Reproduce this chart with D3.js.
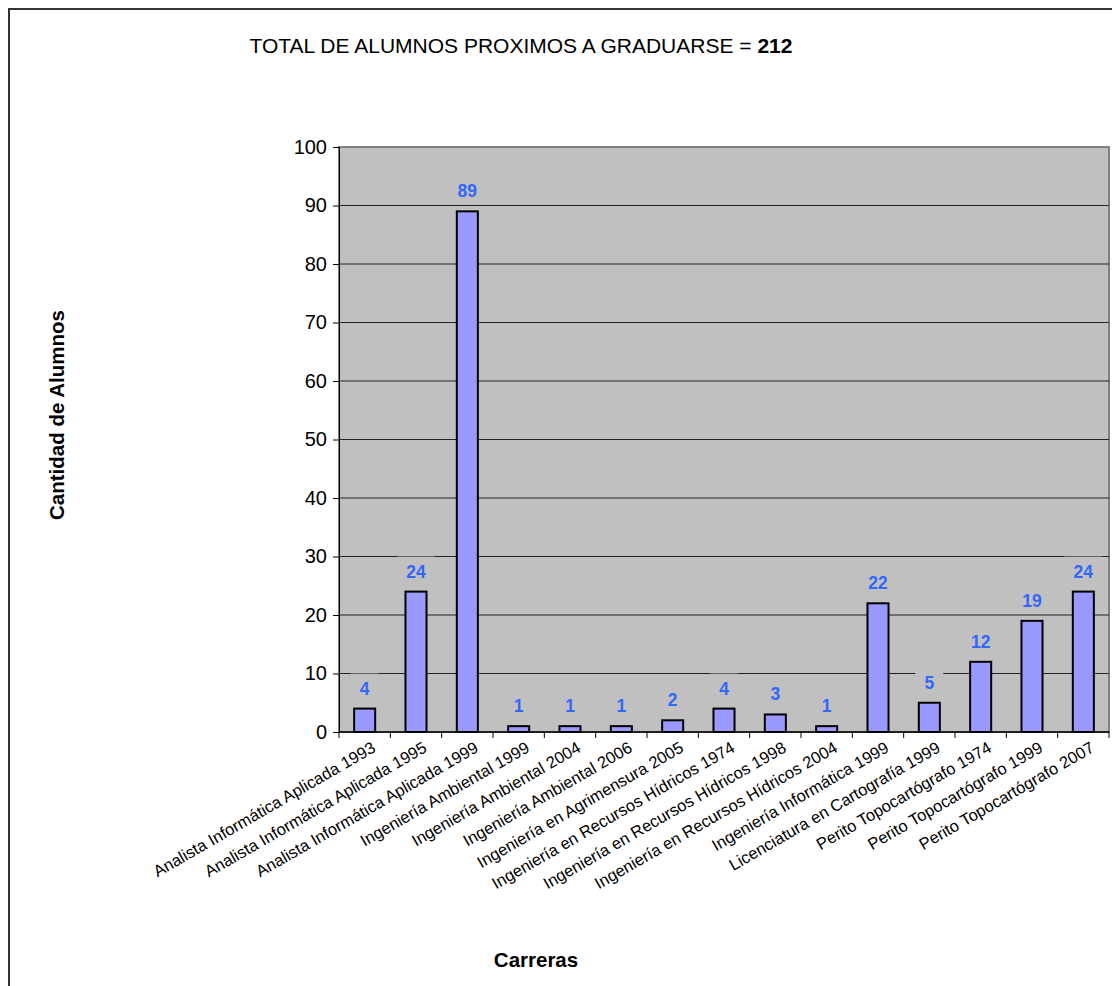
<!DOCTYPE html>
<html>
<head>
<meta charset="utf-8">
<script src="https://cdn.jsdelivr.net/npm/d3@7"></script>
<style>
  body { margin: 0; background: #fff; }
  text { font-family: "Liberation Sans", Arial, sans-serif; }
</style>
</head>
<body>
<div id="chart"></div>
<script>
// data
var carreras = [
  "Analista Informática Aplicada 1993",
  "Analista Informática Aplicada 1995",
  "Analista Informática Aplicada 1999",
  "Ingeniería Ambiental 1999",
  "Ingeniería Ambiental 2004",
  "Ingeniería Ambiental 2006",
  "Ingeniería en Agrimensura 2005",
  "Ingeniería en Recursos Hídricos 1974",
  "Ingeniería en Recursos Hídricos 1998",
  "Ingeniería en Recursos Hídricos 2004",
  "Ingeniería Informática 1999",
  "Licenciatura en Cartografía 1999",
  "Perito Topocartógrafo 1974",
  "Perito Topocartógrafo 1999",
  "Perito Topocartógrafo 2007"
];
var alumnos = [4, 24, 89, 1, 1, 1, 2, 4, 3, 1, 22, 5, 12, 19, 24];
var yTicks = [0, 10, 20, 30, 40, 50, 60, 70, 80, 90, 100];
var total = 212;

var svgWidth = 1112, svgHeight = 986;
var margin = { top: 147, right: 3, bottom: 254, left: 339 };
var width = svgWidth - margin.left - margin.right;
var height = svgHeight - margin.top - margin.bottom;

var svg = d3.select("#chart").append("svg")
  .attr("width", svgWidth)
  .attr("height", svgHeight);

// outer frame (only left and top edges are visible)
svg.append("path")
  .attr("d", "M9,986 V9 H1112")
  .attr("fill", "none")
  .attr("stroke", "#333")
  .attr("stroke-width", 2);

// title
var title = svg.append("text")
  .attr("x", 521)
  .attr("y", 53)
  .attr("text-anchor", "middle")
  .style("font-size", "21px");
title.append("tspan").text("TOTAL DE ALUMNOS PROXIMOS A GRADUARSE = ");
title.append("tspan").style("font-weight", "bold").text(total);

var chartGroup = svg.append("g")
  .attr("transform", `translate(${margin.left}, ${margin.top})`);

var xScale = d3.scaleBand()
  .domain(carreras)
  .range([0, width])
  .paddingInner(0.59)
  .paddingOuter(0.295);

var yScale = d3.scaleLinear()
  .domain([0, 100])
  .range([height, 0]);

// plot background
chartGroup.append("rect")
  .attr("width", width)
  .attr("height", height)
  .attr("fill", "#c0c0c0")
  .attr("stroke", "#808080")
  .attr("stroke-width", 2);

// gridlines
chartGroup.selectAll(".grid")
  .data(yTicks.filter(d => d > 0 && d < 100))
  .enter()
  .append("line")
  .attr("x1", 0)
  .attr("x2", width)
  .attr("y1", d => yScale(d))
  .attr("y2", d => yScale(d))
  .attr("stroke", "#222")
  .attr("stroke-width", 1);

// y axis
var leftAxis = d3.axisLeft(yScale).tickValues(yTicks).tickSize(6).tickPadding(6);
var yAxis = chartGroup.append("g").call(leftAxis);
yAxis.select(".domain").attr("stroke", "#000");
yAxis.selectAll("text").style("font-size", "20px").attr("fill", "#000");

// x axis with ticks on category boundaries
var bw = xScale.step();
chartGroup.append("line")
  .attr("x1", 0).attr("x2", width)
  .attr("y1", height).attr("y2", height)
  .attr("stroke", "#000").attr("stroke-width", 1.5);
chartGroup.selectAll(".xtick")
  .data(d3.range(carreras.length + 1))
  .enter()
  .append("line")
  .attr("x1", i => i * bw).attr("x2", i => i * bw)
  .attr("y1", height).attr("y2", height + 6)
  .attr("stroke", "#000");

// category labels
chartGroup.selectAll(".cat")
  .data(carreras)
  .enter()
  .append("text")
  .attr("text-anchor", "end")
  .attr("transform", d => `translate(${xScale(d) + xScale.bandwidth() / 2 + 12}, ${height + 19}) rotate(-30)`)
  .style("font-size", "16.5px")
  .text(d => d);

// bars
chartGroup.selectAll(".bar")
  .data(alumnos)
  .enter()
  .append("rect")
  .attr("x", (d, i) => xScale(carreras[i]))
  .attr("y", d => yScale(d))
  .attr("width", xScale.bandwidth())
  .attr("height", d => height - yScale(d))
  .attr("fill", "#9999ff")
  .attr("stroke", "#000")
  .attr("stroke-width", 2);

// data labels with plot-coloured background
var labels = chartGroup.selectAll(".lbl")
  .data(alumnos)
  .enter()
  .append("g")
  .attr("transform", (d, i) => `translate(${xScale(carreras[i]) + xScale.bandwidth() / 2}, ${yScale(d) - 14})`);
labels.append("rect")
  .attr("x", d => -String(d).length * 5 - 9)
  .attr("y", -21)
  .attr("width", d => String(d).length * 10 + 18)
  .attr("height", 27)
  .attr("fill", "#c0c0c0");
labels.append("text")
  .attr("text-anchor", "middle")
  .style("font-size", "17.5px")
  .style("font-weight", "bold")
  .attr("fill", "#3366ff")
  .text(d => d);

// axis titles
svg.append("text")
  .attr("transform", "translate(64, 415) rotate(-90)")
  .attr("text-anchor", "middle")
  .style("font-size", "20.5px")
  .style("font-weight", "bold")
  .text("Cantidad de Alumnos");

svg.append("text")
  .attr("x", 536)
  .attr("y", 967)
  .attr("text-anchor", "middle")
  .style("font-size", "20.5px")
  .style("font-weight", "bold")
  .text("Carreras");
</script>
</body>
</html>
